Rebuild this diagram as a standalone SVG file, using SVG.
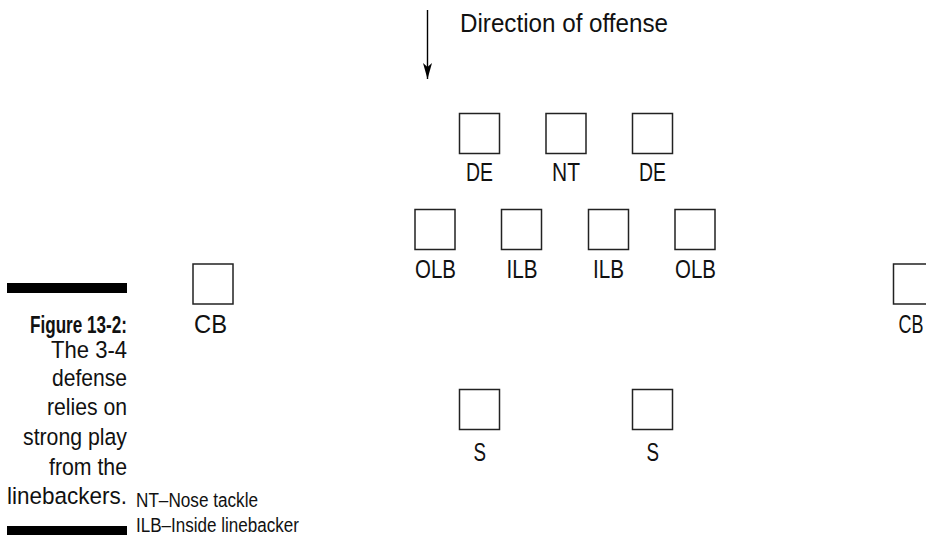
<svg xmlns="http://www.w3.org/2000/svg" width="926" height="539" viewBox="0 0 926 539">
<style>
  text { font-family: "Liberation Sans Narrow", "Liberation Sans", Arial, sans-serif; fill: #111; }
  .lbl { font-size: 25px; }
  .cap { font-size: 24.5px; text-anchor: end; }
  .capb { font-size: 24.5px; text-anchor: end; font-weight: bold; }
  .leg { font-size: 19.5px; }
  .box { fill: #fff; stroke: #222; stroke-width: 1.5; }
  .bar { fill: #000; }
  .conn { stroke: #000; stroke-width: 1.4; fill: none; }
</style>
<defs>
  <marker id="ah" viewBox="0 -5 16 10" refX="16" refY="0" markerWidth="16" markerHeight="10" markerUnits="userSpaceOnUse" orient="auto">
    <path d="M0,-4.5 L16,0 L0,4.5 L4,0 Z" fill="#000"/>
  </marker>
</defs>
<rect width="926" height="539" fill="#fff"/>

<g id="connectors">
  <line class="conn" x1="427.5" y1="10" x2="427.5" y2="79" marker-end="url(#ah)"/>
</g>
<g id="direction-label">
  <text class="lbl" x="460" y="32" textLength="208" lengthAdjust="spacingAndGlyphs">Direction of offense</text>
</g>

<g id="DE-left">
  <rect class="box" x="459.5" y="113.5" width="40" height="40"/>
  <text class="lbl" x="466" y="181" textLength="27" lengthAdjust="spacingAndGlyphs">DE</text>
</g>
<g id="NT">
  <rect class="box" x="546" y="113.5" width="40" height="40"/>
  <text class="lbl" x="552" y="181" textLength="28" lengthAdjust="spacingAndGlyphs">NT</text>
</g>
<g id="DE-right">
  <rect class="box" x="632.5" y="113.5" width="40" height="40"/>
  <text class="lbl" x="639" y="181" textLength="27" lengthAdjust="spacingAndGlyphs">DE</text>
</g>

<g id="OLB-left">
  <rect class="box" x="415" y="209.5" width="40" height="40"/>
  <text class="lbl" x="415" y="278" textLength="41" lengthAdjust="spacingAndGlyphs">OLB</text>
</g>
<g id="ILB-left">
  <rect class="box" x="501.5" y="209.5" width="40" height="40"/>
  <text class="lbl" x="506.5" y="278" textLength="31" lengthAdjust="spacingAndGlyphs">ILB</text>
</g>
<g id="ILB-right">
  <rect class="box" x="588.5" y="209.5" width="40" height="40"/>
  <text class="lbl" x="593" y="278" textLength="31" lengthAdjust="spacingAndGlyphs">ILB</text>
</g>
<g id="OLB-right">
  <rect class="box" x="675" y="209.5" width="40" height="40"/>
  <text class="lbl" x="675" y="278" textLength="41" lengthAdjust="spacingAndGlyphs">OLB</text>
</g>

<g id="CB-left">
  <rect class="box" x="193" y="264" width="40" height="40"/>
  <text class="lbl" x="194" y="333" textLength="33" lengthAdjust="spacingAndGlyphs">CB</text>
</g>
<g id="CB-right">
  <path class="box" d="M926,264 H893.5 V304 H926"/>
  <text class="lbl" x="898.5" y="333" textLength="25" lengthAdjust="spacingAndGlyphs">CB</text>
</g>

<g id="S-left">
  <rect class="box" x="459.5" y="389.5" width="40" height="40"/>
  <text class="lbl" x="473.5" y="461" textLength="12.5" lengthAdjust="spacingAndGlyphs">S</text>
</g>
<g id="S-right">
  <rect class="box" x="632.5" y="389.5" width="40" height="40"/>
  <text class="lbl" x="646.5" y="461" textLength="12.5" lengthAdjust="spacingAndGlyphs">S</text>
</g>

<g id="caption">
  <rect class="bar" x="7" y="283" width="120" height="10"/>
  <text class="capb" x="127" y="333" textLength="97" lengthAdjust="spacingAndGlyphs">Figure 13-2:</text>
  <text class="cap" x="127" y="358" textLength="76" lengthAdjust="spacingAndGlyphs">The 3-4</text>
  <text class="cap" x="127" y="386" textLength="75" lengthAdjust="spacingAndGlyphs">defense</text>
  <text class="cap" x="127" y="415" textLength="80" lengthAdjust="spacingAndGlyphs">relies on</text>
  <text class="cap" x="127" y="445" textLength="104" lengthAdjust="spacingAndGlyphs">strong play</text>
  <text class="cap" x="127" y="475" textLength="78" lengthAdjust="spacingAndGlyphs">from the</text>
  <text class="cap" x="127" y="504" textLength="120" lengthAdjust="spacingAndGlyphs">linebackers.</text>
  <rect class="bar" x="7" y="526" width="120" height="9"/>
</g>

<g id="legend">
  <text class="leg" x="136" y="507" textLength="122" lengthAdjust="spacingAndGlyphs">NT–Nose tackle</text>
  <text class="leg" x="136" y="532" textLength="163" lengthAdjust="spacingAndGlyphs">ILB–Inside linebacker</text>
</g>
</svg>
